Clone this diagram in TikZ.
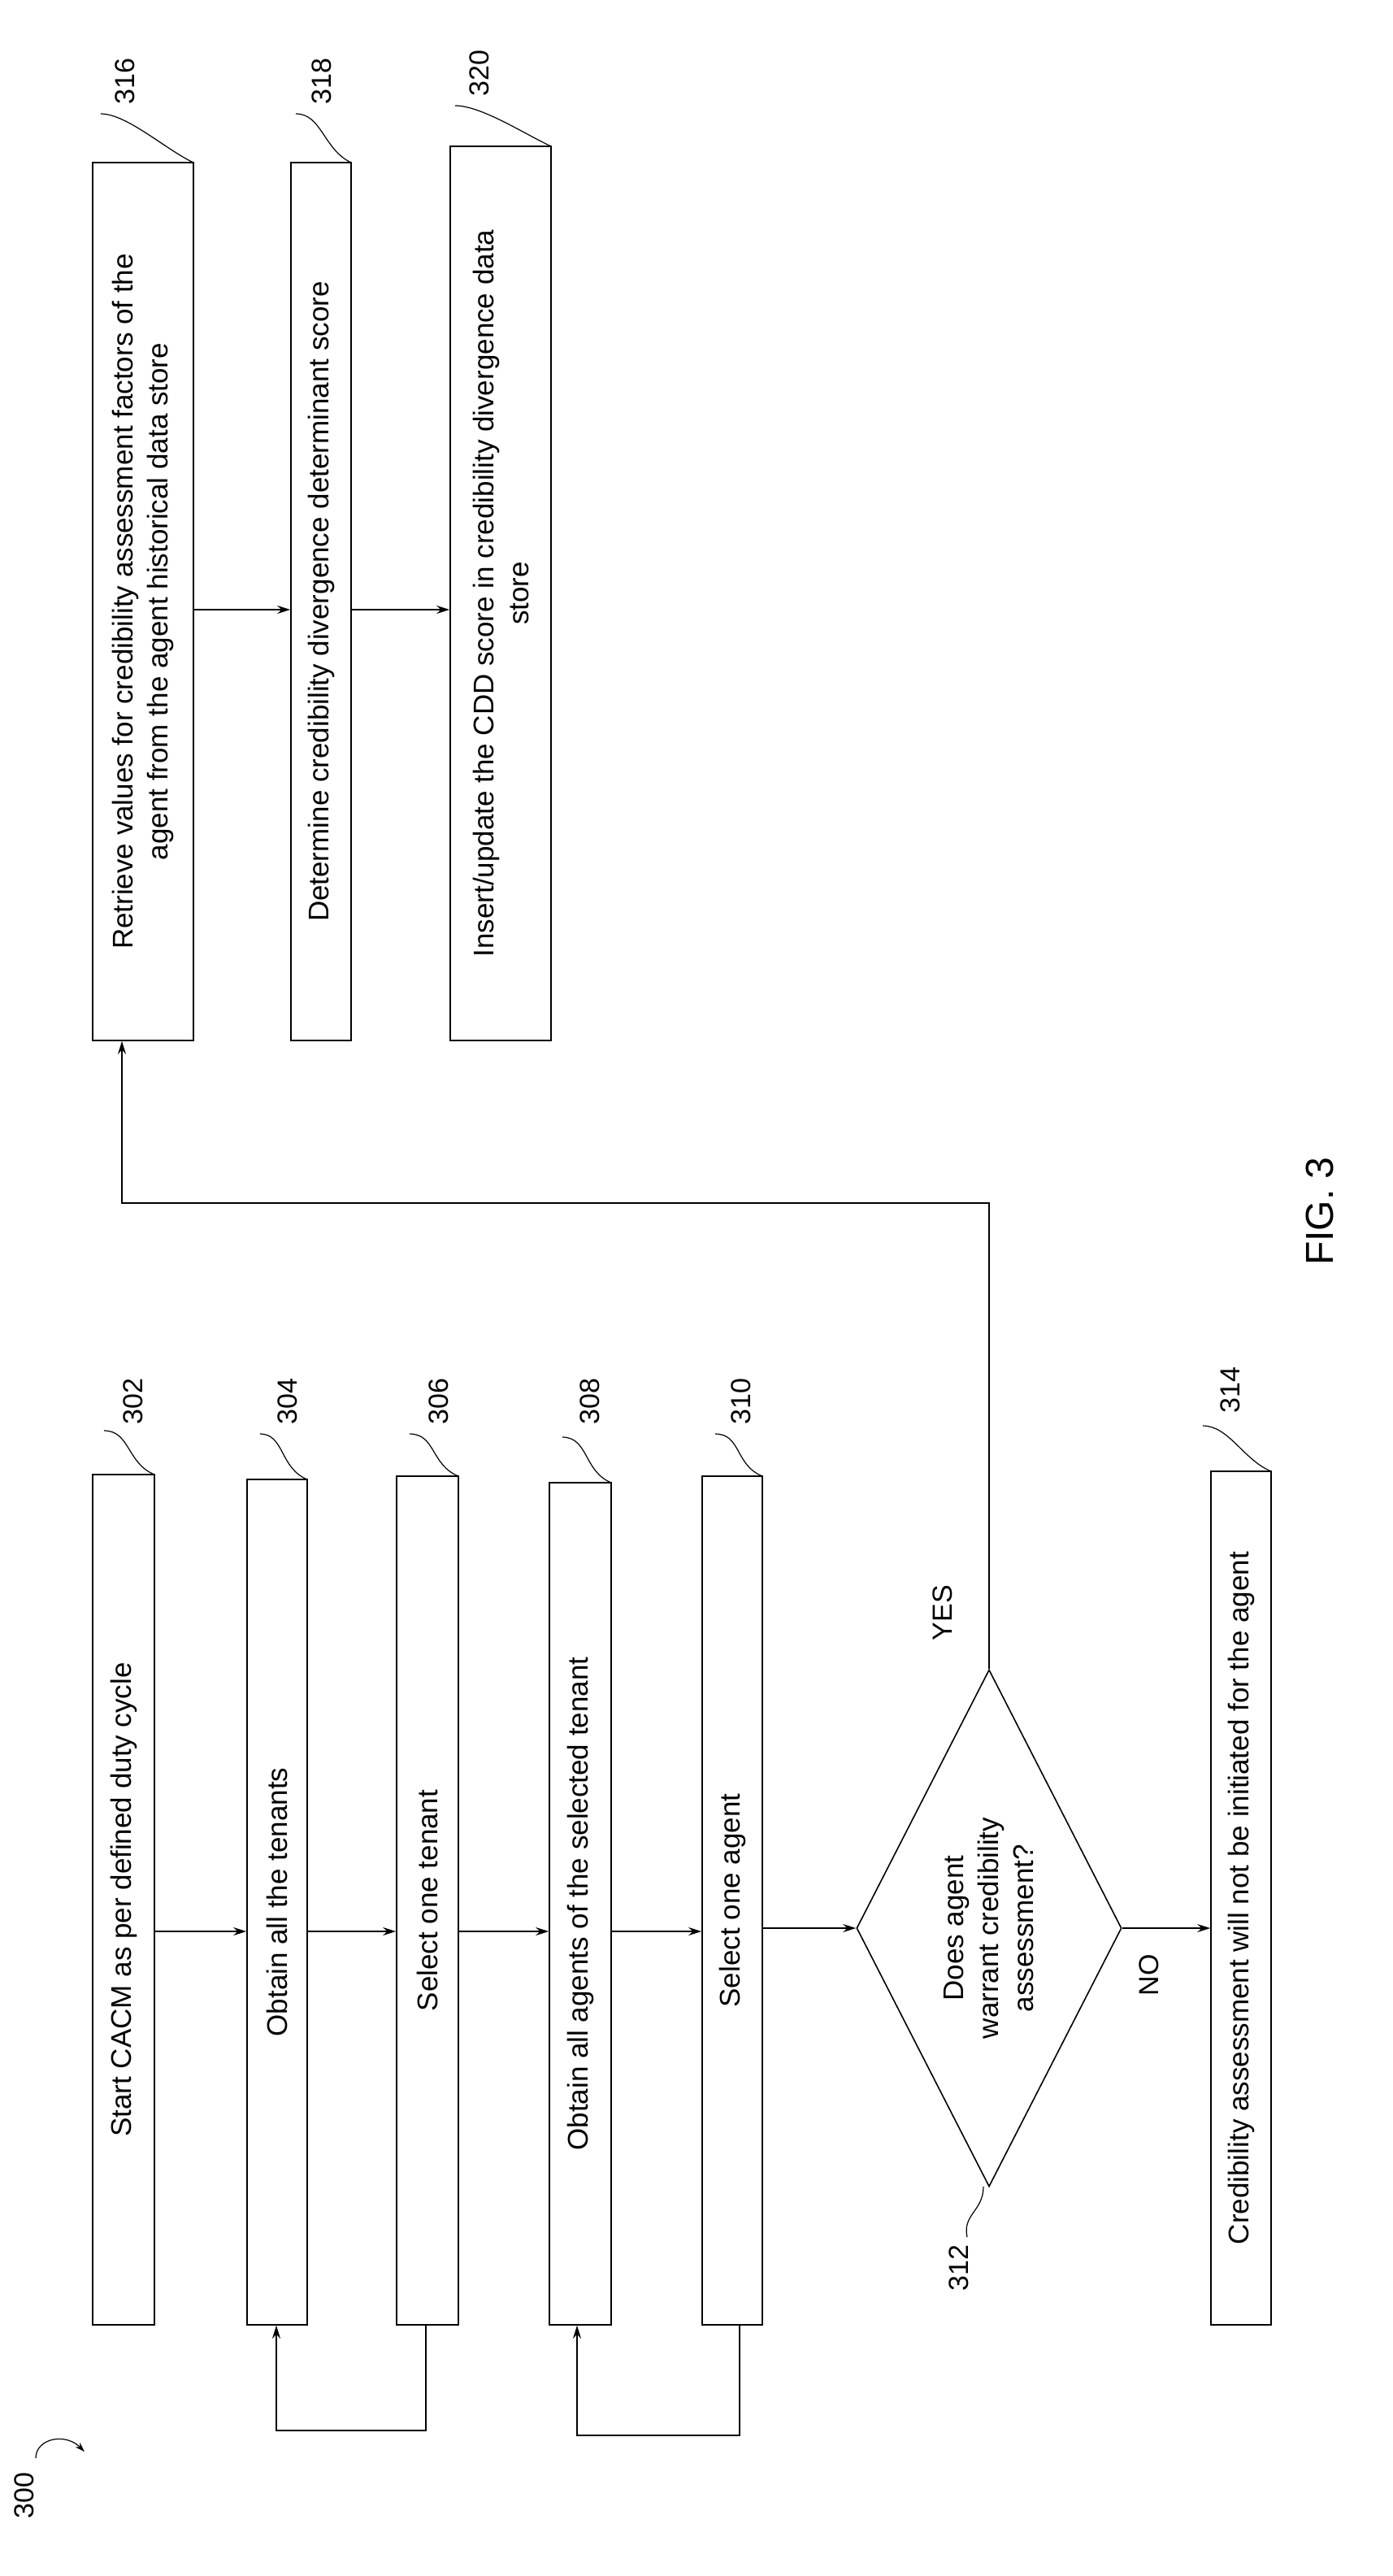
\documentclass[tikz,border=0pt]{standalone}
\usepackage{fontspec}
\setmainfont{Liberation Sans}
\usetikzlibrary{arrows.meta,shapes.geometric}
\begin{document}
\begin{tikzpicture}[x=2pt,y=-2pt,
 box/.style={draw,line width=1.6pt,rotate=90,inner sep=0pt,align=center,font=\fontsize{35}{43}\selectfont},
 arr/.style={line width=1.4pt,-{Stealth[length=16pt,width=10pt]}},
 lab/.style={rotate=90,font=\fontsize{34}{40}\selectfont},
 lead/.style={line width=1.2pt}]
\useasboundingbox (0,0) rectangle (856.5,1584.5);
\node[box,minimum width=1046pt,minimum height=76pt] (b302) at (76,1168.5) {Start CACM as per defined duty cycle};
\node[box,minimum width=1040pt,minimum height=74pt] (b304) at (170.5,1170) {Obtain all the tenants};
\node[box,minimum width=1044pt,minimum height=76pt] (b306) at (263,1169) {Select one tenant};
\node[box,minimum width=1036pt,minimum height=76pt] (b308) at (357,1171) {Obtain all agents of the selected tenant};
\node[box,minimum width=1044pt,minimum height=74pt] (b310) at (450.5,1169) {Select one agent};
\node[draw,diamond,line width=1.6pt,minimum width=326pt,minimum height=636pt,inner sep=0pt] (d312) at (608.5,1186) {};
\node[rotate=90,align=center,font=\fontsize{35}{43}\selectfont] (t312) at (608.5,1186) {Does agent\\warrant credibility\\assessment?};
\node[box,minimum width=1050pt,minimum height=74pt] (b314) at (763.5,1167.5) {Credibility assessment will not be initiated for the agent};
\node[box,minimum width=1080pt,minimum height=124pt] (b316) at (88,370) {Retrieve values for credibility assessment factors of the\\agent from the agent historical data store};
\node[box,minimum width=1080pt,minimum height=74pt] (b318) at (197.5,370) {Determine credibility divergence determinant score};
\node[box,minimum width=1100pt,minimum height=124pt] (b320) at (308,365) {Insert/update the CDD score in credibility divergence data\\store};
\draw[arr] (b302.south |- 0,1188) -- (b304.north |- 0,1188);
\draw[arr] (b304.south |- 0,1188) -- (b306.north |- 0,1188);
\draw[arr] (b306.south |- 0,1188) -- (b308.north |- 0,1188);
\draw[arr] (b308.south |- 0,1188) -- (b310.north |- 0,1188);
\draw[arr] (b310.south |- d312.west) -- (d312.west);
\draw[arr] (d312.east) -- (b314.north |- d312.east);
\coordinate (c1) at (608.5,740);
\coordinate (c2) at (75,740);
\draw[arr] (d312.north) -- (c1) -- (c2) -- (c2 |- b316.west);
\draw[arr] (b316.south |- 0,375) -- (b318.north |- 0,375);
\draw[arr] (b318.south |- 0,375) -- (b320.north |- 0,375);
\coordinate (l1) at (262,1495); \coordinate (l2) at (170,1495);
\draw[arr] (l1 |- b306.west) -- (l1) -- (l2) -- (l2 |- b304.west);
\coordinate (l3) at (455,1498); \coordinate (l4) at (355,1498);
\draw[arr] (l3 |- b310.west) -- (l3) -- (l4) -- (l4 |- b308.west);
\node[lab] (yes) at (580,992) {YES};
\node[lab] (no) at (707,1215) {NO};
\node[lab] (n302) at (82,862) {302};
\node[lab] (n304) at (177,862) {304};
\node[lab] (n306) at (270,862) {306};
\node[lab] (n308) at (363,862) {308};
\node[lab] (n310) at (456,862) {310};
\node[lab] (n314) at (757,855) {314};
\node[lab] (n316) at (77,50) {316};
\node[lab] (n318) at (198,50) {318};
\node[lab] (n320) at (295,45) {320};
\node[lab] (n312) at (590,1395) {312};
\node[lab] (n300) at (15,1535) {300};
\node[rotate=90,font=\fontsize{48}{52}\selectfont] (fig) at (812,745) {FIG. 3};
\draw[lead] (64,880) .. controls (80,880) and (78,900) .. (95,907);
\draw[lead] (160,882) .. controls (175,882) and (172,903) .. (189,910);
\draw[lead] (252,882) .. controls (268,882) and (265,901) .. (282,908);
\draw[lead] (346,884) .. controls (362,884) and (359,905) .. (376,912);
\draw[lead] (440,882) .. controls (456,882) and (452,901) .. (469,908);
\draw[lead] (740,877) .. controls (756,877) and (765,898) .. (782,905);
\draw[lead] (62,70) .. controls (78,70) and (102,92) .. (119,100);
\draw[lead] (182,70) .. controls (198,70) and (199,92) .. (216,100);
\draw[lead] (280,65) .. controls (296,65) and (322,82) .. (339,90);
\draw[lead] (605,1345) .. controls (605,1360) and (592,1362) .. (595,1376);
\draw[lead,-{Stealth[length=12pt,width=8pt]}] (22,1512) .. controls (22,1500) and (40,1496) .. (52,1508);
\end{tikzpicture}
\end{document}
